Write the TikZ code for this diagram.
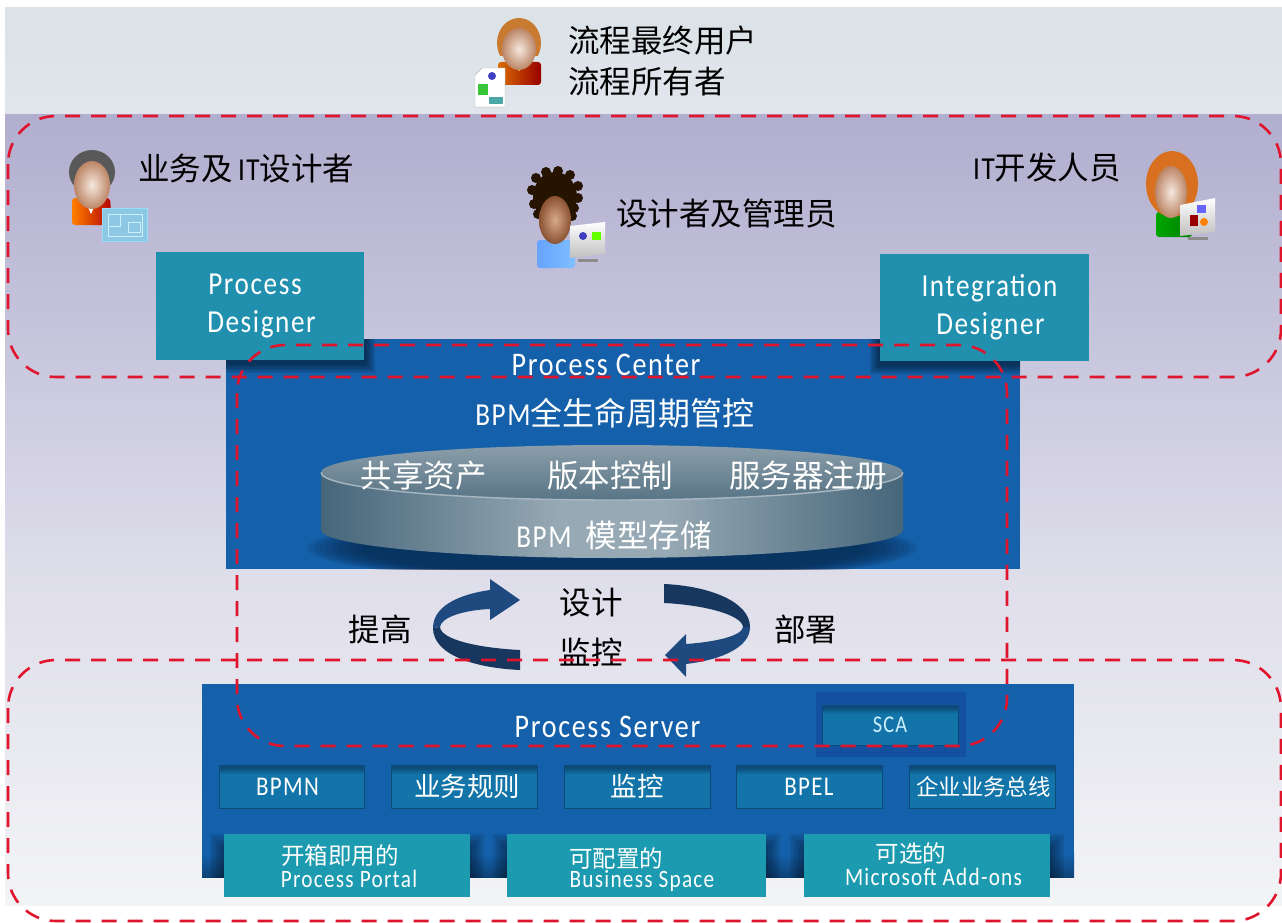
\documentclass[tikz,border=0pt]{standalone}
\usepackage{fontspec}
\setmainfont{Noto Sans CJK SC}
\newfontfamily\lat[FakeStretch=0.85,LetterSpace=5]{Carlito}
\usetikzlibrary{shapes.geometric}
\definecolor{dashred}{HTML}{E0142D}
\definecolor{centerblue}{HTML}{1460AA}
\definecolor{teal1}{HTML}{2090AE}
\definecolor{teal2}{HTML}{1B9AB0}
\definecolor{DCband}{HTML}{DBE3E7}
\definecolor{DCband2}{HTML}{E0E5EB}
\definecolor{bgA}{HTML}{B1AECF}
\definecolor{bgB}{HTML}{DEDDEA}
\definecolor{bgC}{HTML}{F3F4F6}
\definecolor{diskedge}{HTML}{46667A}
\definecolor{diskmid}{HTML}{97A9B4}
\definecolor{diskT}{HTML}{8B9EAA}
\definecolor{diskB}{HTML}{587485}
\definecolor{diskline}{HTML}{A9B8C0}
\definecolor{diskshadow}{HTML}{082A50}
\definecolor{arrowA}{HTML}{1E4A80}
\definecolor{arrowB}{HTML}{17375F}
\definecolor{scablue}{HTML}{1450A0}
\definecolor{insetblue}{HTML}{1274A8}
\definecolor{insetdark}{HTML}{0C4A78}
\definecolor{bpblue}{HTML}{8CC8E4}
\definecolor{hairO}{HTML}{C87A30}
\definecolor{hairR}{HTML}{D87020}
\definecolor{faceL}{HTML}{F5E8DE}
\definecolor{faceO}{HTML}{BC8565}
\definecolor{faceDL}{HTML}{D8A98A}
\definecolor{faceDO}{HTML}{8A5232}
\pgfdeclareverticalshading{insetshade}{100bp}{color(0bp)=(insetblue); color(64bp)=(insetblue); color(72bp)=(insetdark); color(100bp)=(insetdark)}
\newcommand{\fs}[1]{\fontsize{#1}{#1}\selectfont}
\tikzset{
  x=1pt,y=-1pt,
  dashbox/.style={draw=dashred,line width=2.6pt,dash pattern=on 15pt off 11pt,rounded corners=48pt},
  bluebox/.style={fill=centerblue,draw=none},
  tealbox/.style={fill=teal1,draw=none,text=white,align=center,inner sep=0pt,font=\lat\fs{32}},
  portal/.style={fill=teal2,draw=none,text=white,align=center,inner sep=0pt},
  inset/.style={shading=insetshade,draw=insetdark,line width=.8pt,text=white,inner sep=0pt},
  wlabel/.style={text=white,inner sep=0pt},
  blabel/.style={text=black,inner sep=0pt,font=\fs{31.5}},
  facelight/.style={inner color=faceL,outer color=faceO,draw=none},
  facedark/.style={inner color=faceDL,outer color=faceDO,draw=none},
}
\newcommand{\softshadow}[4]{%
  \foreach \d in {10,8,6,4,2}{\fill[black,opacity=.11] (#1-\d,#2-\d+4) rectangle (#3+\d+1,#4+\d+3);}}
\begin{document}
\begin{tikzpicture}
\useasboundingbox (0,0) rectangle (1282,923);
% backgrounds
\shade[top color=DCband,bottom color=DCband2] (5,8) rectangle (1282,115);
\shade[top color=bgA,bottom color=bgB] (5,115) rectangle (1282,570);
\shade[top color=bgB,bottom color=bgC] (5,570) rectangle (1282,905);
% Process Center
\node[bluebox,minimum width=794pt,minimum height=230pt,inner sep=0pt] (center) at (623,454) {};
\begin{scope}
\clip (226,339) rectangle (1020,569);
\softshadow{156}{252}{364}{360}
\softshadow{880}{254}{1089}{361}
\end{scope}
\node[tealbox,minimum width=208pt,minimum height=108pt] (pd) at (260,306) {\hspace*{-10pt}Process\\[6pt]\hspace*{3pt}Designer};
\node[tealbox,minimum width=209pt,minimum height=107pt] (id) at (984.5,307.5) {\hspace*{10pt}Integration\\[6pt]\hspace*{12pt}Designer};
\node[wlabel,font=\lat\fs{33}] (pclabel) at (606,365) {Process\hspace{8pt}Center};
\node[wlabel,font=\fs{29}] (lifecycle) at (615,413) {{\lat\fs{32}BPM}{\fs{32}全生命周期管控}};
% disk
\begin{scope}
\clip (226,339) rectangle (1020,569);
\foreach \r in {1,.98,.96,.94,.92,.90,.88,.86,.84,.82}{\fill[diskshadow,opacity=.14] (612,548) ellipse ({305*\r} and {34*\r});}
\end{scope}
\begin{scope}
\clip (321,472) -- (321,530) .. controls (321,545) and (450,558) .. (612,558) .. controls (774,558) and (903,545) .. (903,530) -- (903,472) -- cycle;
\shade[left color=diskedge,right color=diskmid] (321,470) rectangle (560,560);
\fill[diskmid] (559,470) rectangle (665,560);
\shade[left color=diskmid,right color=diskedge] (664,470) rectangle (903,560);
\end{scope}
\node[ellipse,draw=none,top color=diskT,bottom color=diskB,minimum width=582pt,minimum height=55pt,inner sep=0pt] (disktop) at (612,472.5) {};
\draw[diskline,line width=1.4pt] (321,472.5) .. controls (321,488) and (450,500) .. (612,500) .. controls (774,500) and (903,488) .. (903,472.5);
\node[wlabel,font=\fs{31.5}] (shared) at (423.5,476) {共享资产};
\node[wlabel,font=\fs{31.5}] (version) at (610,476) {版本控制};
\node[wlabel,font=\fs{31.5}] (registry) at (808,476) {服务器注册};
\node[wlabel,font=\fs{29}] (store) at (614,535) {{\lat\fs{32}BPM}\hspace{14pt}{\fs{31.5}模型存储}};
% cycle arrows
\fill[arrowA] (520,600) -- (490,579) -- (490,590) .. controls (455,595) and (433,608) .. (433,628) -- (440,627) .. controls (441,617) and (465,610) .. (490,609) -- (490,620) -- cycle;
\fill[arrowB] (433,628) .. controls (433,655) and (475,668) .. (520,670) -- (520,650) .. controls (480,648) and (441,640) .. (440,627) -- cycle;
\fill[arrowA] (665,655) -- (686,634) -- (686,644) .. controls (715,642) and (742,636) .. (743,627) -- (750,627) .. controls (750,648) and (720,660) .. (686,664) -- (686,677) -- cycle;
\fill[arrowB] (664,584) .. controls (710,586) and (750,602) .. (750,627) -- (743,627) .. controls (742,615) and (705,605) .. (664,603) -- cycle;
\node[blabel] (design) at (591,603) {设计};
\node[blabel] (monitor) at (591,652) {监控};
\node[blabel] (improve) at (380,629) {提高};
\node[blabel] (deploy) at (805.5,629) {部署};
% Process Server
\node[bluebox,minimum width=872pt,minimum height=193pt,inner sep=0pt] (server) at (638,780.5) {};
\shade[top color=centerblue,bottom color=black!30!centerblue] (202,854) rectangle (1074,877);
\node[wlabel,font=\lat\fs{33}] (pslabel) at (607.5,727) {Process\hspace{8pt}Server};
\node[fill=scablue,minimum width=150pt,minimum height=65pt,inner sep=0pt] (scaouter) at (891,724.5) {};
\node[inset,minimum width=136pt,minimum height=40pt,font=\lat\fs{24}] (sca) at (890,725) {\raisebox{-2pt}{\textcolor{white!80!cyan}{SCA}}};
\node[inset,minimum width=145pt,minimum height=43pt,font=\lat\fs{27}] (bpmn) at (291.5,786.5) {\hspace*{-8pt}BPMN};
\node[inset,minimum width=146pt,minimum height=43pt,font=\fs{26.5}] (rules) at (464,786.5) {\hspace*{6pt}业务规则};
\node[inset,minimum width=146pt,minimum height=43pt,font=\fs{26.5}] (mon2) at (637,786.5) {监控};
\node[inset,minimum width=146pt,minimum height=43pt,font=\lat\fs{27}] (bpel) at (809,786.5) {BPEL};
\node[inset,minimum width=146pt,minimum height=43pt,font=\fs{22.4}] (esb) at (982,786.5) {\hspace*{3pt}企业业务总线};
\begin{scope}
\clip (202,684) rectangle (1074,877);
\foreach \a/\b in {224/470,507/766,804/1050}{\foreach \d in {14,11,8,5,2}{\fill[black,opacity=.09] (\a-\d,848-\d) rectangle (\b+\d,890);}}
\end{scope}
\node[portal,minimum width=246pt,minimum height=63pt] (portal) at (347,865.5) {};
\node[portal,minimum width=259pt,minimum height=63pt] (space) at (636.5,865.5) {};
\node[portal,minimum width=246pt,minimum height=63pt] (addons) at (927,865.5) {};
\node[wlabel,font=\fs{23.5}] (t1a) at (340,856) {开箱即用的};
\node[wlabel,font=\lat\fs{25}] (t1b) at (349,879) {Process\hspace{6pt}Portal};
\node[wlabel,font=\fs{23.5}] (t2a) at (616,858) {可配置的};
\node[wlabel,font=\lat\fs{25}] (t2b) at (642,881) {Business\hspace{6pt}Space};
\node[wlabel,font=\fs{23.5}] (t3a) at (911,854) {可选的};
\node[wlabel,font=\lat\fs{25}] (t3b) at (933.5,877) {Microsoft\hspace{6pt}Add-ons};
% top labels
\node[blabel,anchor=west] (u1) at (568,41) {流程最终用户};
\node[blabel,anchor=west] (u2) at (568,82) {流程所有者};
\node[blabel,anchor=west] (bd) at (138,169) {业务及{\lat\fs{32}\,IT}设计者};
\node[blabel,anchor=west] (adm) at (616,214) {设计者及管理员};
\node[blabel,anchor=east] (dev) at (1121,168) {{\lat\fs{32}IT}开发人员};
% person 1 (top)
\shade[left color=orange!85!black,right color=red!60!black,rounded corners=3pt] (498,62) rectangle (541,85);
\fill[yellow!80!orange] (510,62) -- (529,62) -- (519,71) -- cycle;
\begin{scope}
\clip (490,10) rectangle (550,56);
\fill[hairO] (519,43) ellipse (22pt and 25pt);
\end{scope}
\shade[facelight] (519,49) ellipse (17pt and 21pt);
\draw[black!30,fill=white] (475,75) -- (482,68) -- (505,68) -- (505,107) -- (475,107) -- cycle;
\fill[green!55!gray] (478,84) rectangle (488,95);
\fill[blue!50!gray] (492,76) circle (4pt);
\fill[teal!70] (489,97) rectangle (503,104);
% person 2
\shade[left color=orange,right color=red!70!black,rounded corners=3pt] (72,198) -- (110,198) -- (112,225) -- (72,225) -- cycle;
\fill[white] (84,198) -- (98,198) -- (91,214) -- cycle;
\begin{scope}
\clip (60,145) rectangle (125,186);
\fill[black!65] (92,172) ellipse (23pt and 22pt);
\end{scope}
\shade[facelight] (92,185) ellipse (18pt and 24pt);
\node[fill=bpblue,draw=white!60!cyan,line width=1pt,minimum width=45pt,minimum height=33pt,inner sep=0pt] (plan) at (124.5,224.5) {};
\draw[white!80!cyan,line width=1pt] (108,214) rectangle (142,236) (120,214) -- (120,226) -- (108,226) (128,222) rectangle (140,232);
% person 3
\shade[left color=cyan!40!blue!60,right color=cyan!50!blue!50,rounded corners=3pt] (537,240) -- (575,240) -- (575,268) -- (537,268) -- cycle;
\fill[black!85!orange] (555,197) ellipse (22pt and 25pt);
\foreach \xc/\yc in {532/190,536/178,546/172,558/171,570/175,578/186,578/198,574/208,534/204,538/214,572/216}{\fill[black!85!orange] (\xc,\yc) circle (5pt);}
\shade[facedark] (555,220) ellipse (16pt and 24pt);
\shade[top color=white,bottom color=black!25] (570,226) -- (605,222) -- (605,254) -- (570,258) -- cycle;
\fill[black!45] (578,262) rectangle (598,259);
\fill[blue!50!gray] (583,236) circle (4pt);
\fill[green!60!yellow] (592,232) rectangle (601,240);
% person 4
\shade[left color=green!65!black,right color=green!50!black,rounded corners=3pt] (1156,212) rectangle (1192,237);
\fill[hairR] (1172,184) ellipse (26pt and 33pt);
\shade[facelight] (1171,192) ellipse (16pt and 26pt);
\shade[top color=white,bottom color=black!25] (1180,205) -- (1215,198) -- (1215,232) -- (1180,236) -- cycle;
\fill[black!45] (1188,240) rectangle (1208,237);
\fill[red!60!black] (1190,215) rectangle (1198,226);
\fill[orange] (1204,222) circle (4pt);
\fill[blue!60] (1197,205) rectangle (1206,213);
% dashed regions
\draw[dashbox] (8,116) rectangle (1281,377);
\draw[dashbox] (237,345) rectangle (1007,746);
\draw[dashbox] (8,660) rectangle (1281,921);
\end{tikzpicture}
\end{document}
